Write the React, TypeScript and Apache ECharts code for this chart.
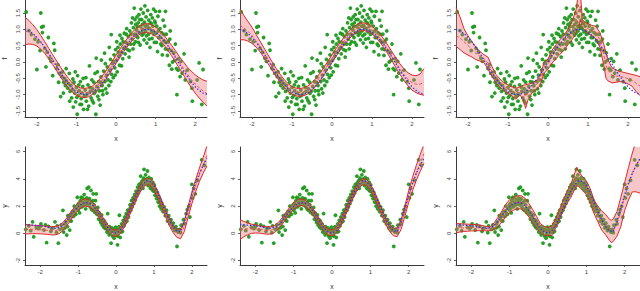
import React, { useEffect, useRef } from "react";
import * as echarts from "echarts";

// ---------- top row data (response "f") ----------
const TOP_X = [-2.3,-2.2,-2.1,-2.0,-1.9,-1.8,-1.7,-1.6,-1.5,-1.4,-1.3,-1.2,-1.1,-1.0,-0.9,-0.8,-0.7,-0.6,-0.5,-0.4,-0.3,-0.2,-0.1,0,0.1,0.2,0.3,0.4,0.5,0.6,0.7,0.8,0.9,1.0,1.1,1.2,1.3,1.4,1.5,1.6,1.7,1.8,1.9,2.0,2.1,2.2,2.3];
const TOP_TRUE = [0.99,0.95,0.87,0.76,0.61,0.44,0.26,0.06,-0.14,-0.33,-0.52,-0.68,-0.81,-0.91,-0.97,-1.0,-0.99,-0.93,-0.84,-0.72,-0.56,-0.39,-0.2,0,0.2,0.39,0.56,0.72,0.84,0.93,0.99,1.0,0.97,0.91,0.81,0.68,0.52,0.33,0.14,-0.06,-0.26,-0.44,-0.61,-0.76,-0.87,-0.95,-0.99];

const P1_EST = [0.95,0.91,0.84,0.74,0.6,0.44,0.26,0.07,-0.12,-0.31,-0.49,-0.65,-0.79,-0.88,-0.93,-0.95,-0.93,-0.87,-0.77,-0.64,-0.48,-0.3,-0.11,0.08,0.27,0.45,0.62,0.77,0.89,0.98,1.03,1.04,1.0,0.93,0.82,0.69,0.53,0.36,0.18,-0.01,-0.19,-0.37,-0.53,-0.67,-0.79,-0.89,-0.97];
const P1_LO = [0.53,0.55,0.54,0.49,0.39,0.26,0.1,-0.08,-0.27,-0.46,-0.64,-0.8,-0.93,-1.02,-1.07,-1.09,-1.07,-1.0,-0.9,-0.77,-0.61,-0.43,-0.24,-0.05,0.14,0.32,0.49,0.64,0.76,0.85,0.9,0.9,0.86,0.79,0.68,0.54,0.38,0.2,0.01,-0.19,-0.39,-0.59,-0.78,-0.95,-1.1,-1.23,-1.35];
const P1_HI = [1.37,1.27,1.14,0.99,0.81,0.62,0.42,0.22,0.03,-0.16,-0.34,-0.5,-0.65,-0.74,-0.79,-0.81,-0.79,-0.74,-0.64,-0.51,-0.35,-0.17,0.02,0.21,0.4,0.58,0.75,0.9,1.02,1.11,1.16,1.18,1.14,1.07,0.96,0.84,0.68,0.52,0.35,0.17,0.01,-0.15,-0.28,-0.39,-0.48,-0.55,-0.59];

const P2_EST = [1.12,1.04,0.94,0.81,0.65,0.47,0.28,0.08,-0.12,-0.31,-0.49,-0.65,-0.78,-0.87,-0.92,-0.93,-0.91,-0.85,-0.75,-0.62,-0.46,-0.28,-0.09,0.1,0.29,0.47,0.64,0.79,0.92,1.01,1.07,1.08,1.05,0.98,0.87,0.73,0.56,0.37,0.17,-0.03,-0.22,-0.39,-0.53,-0.63,-0.68,-0.68,-0.62];
const P2_LO = [0.68,0.68,0.64,0.57,0.46,0.31,0.14,-0.05,-0.24,-0.43,-0.61,-0.77,-0.9,-0.99,-1.04,-1.05,-1.03,-0.97,-0.87,-0.74,-0.58,-0.4,-0.21,-0.02,0.17,0.35,0.52,0.67,0.8,0.89,0.95,0.96,0.93,0.86,0.75,0.61,0.43,0.24,0.03,-0.18,-0.38,-0.57,-0.73,-0.86,-0.94,-0.99,-1.02];
const P2_HI = [1.62,1.42,1.24,1.06,0.85,0.64,0.43,0.22,0.01,-0.19,-0.37,-0.53,-0.66,-0.75,-0.8,-0.81,-0.79,-0.73,-0.63,-0.5,-0.34,-0.16,0.03,0.22,0.41,0.59,0.76,0.91,1.04,1.13,1.19,1.2,1.17,1.1,0.99,0.86,0.69,0.51,0.31,0.12,-0.06,-0.21,-0.33,-0.4,-0.42,-0.37,-0.2];

const P3_X = [-2.3,-2.2,-2.1,-2.0,-1.9,-1.8,-1.7,-1.6,-1.5,-1.4,-1.3,-1.2,-1.1,-1.0,-0.9,-0.8,-0.7,-0.62,-0.56,-0.5,-0.4,-0.3,-0.2,-0.1,0,0.1,0.2,0.3,0.4,0.5,0.6,0.7,0.76,0.81,0.86,0.9,1.0,1.1,1.2,1.3,1.4,1.45,1.5,1.6,1.7,1.8,1.9,2.0,2.1,2.2,2.3];
const P3_EST = [0.8,0.74,0.62,0.5,0.38,0.26,0.17,0.1,-0.03,-0.29,-0.5,-0.64,-0.75,-0.83,-0.9,-0.97,-0.88,-0.92,-1.06,-0.92,-0.8,-0.71,-0.58,-0.18,-0.06,0.16,0.31,0.46,0.59,0.77,0.95,1.24,1.57,1.7,1.17,1.12,1.02,0.96,0.9,0.67,0.19,-0.11,-0.25,-0.41,-0.43,-0.44,-0.47,-0.51,-0.56,-0.65,-0.74];
const P3_LO = [0.48,0.38,0.28,0.21,0.15,0.07,0.03,-0.02,-0.22,-0.44,-0.63,-0.77,-0.88,-0.96,-1.04,-1.14,-1.01,-1.14,-1.42,-1.16,-0.95,-0.85,-0.72,-0.35,-0.22,-0.04,0.1,0.24,0.36,0.53,0.68,0.9,1.05,1.29,1.05,1.0,0.88,0.8,0.7,0.45,-0.14,-0.5,-0.58,-0.64,-0.62,-0.6,-0.62,-0.67,-0.74,-0.9,-1.03];
const P3_HI = [1.66,1.38,1.02,0.8,0.62,0.45,0.32,0.22,0.15,-0.14,-0.38,-0.52,-0.63,-0.7,-0.76,-0.8,-0.76,-0.71,-0.7,-0.68,-0.64,-0.58,-0.44,-0.02,0.09,0.36,0.53,0.68,0.82,1.0,1.24,1.59,2.1,2.1,1.3,1.24,1.17,1.12,1.09,0.9,0.52,0.27,0.07,-0.18,-0.24,-0.29,-0.32,-0.35,-0.38,-0.41,-0.45];

const TOP_PTS = [
  [-2.27,1.53],[-2.2,0.96],[-2.14,0.84],[-2.05,0.7],[-2.0,-0.23],[-1.97,0.62],[-1.9,1.5],[-1.88,1.07],[-1.86,0.9],[-1.84,1.09],[-1.8,0.42],[-1.77,-0.15],[-1.74,0.3],[-1.68,0.12],[-1.64,0.02],[-1.6,-0.42],[-1.57,0.57],[-1.55,0.36],[-1.5,-0.2],[-1.47,-0.08],[-1.43,-0.35],[-1.4,-1.06],
  [-1.37,-0.45],[-1.35,-0.3],[-1.32,-0.62],[-1.3,-0.5],[-1.28,-0.72],[-1.25,-0.58],[-1.22,-0.8],[-1.2,-0.66],[-1.18,-0.35],[-1.16,-0.9],[-1.14,-0.72],[-1.12,-1.1],[-1.1,-0.85],[-1.08,-1.38],[-1.06,-0.62],[-1.04,-0.95],[-1.02,-1.22],[-1.0,-0.78],[-0.98,-1.6],[-0.97,-0.42],[-0.95,-1.02],[-0.93,-0.88],[-0.91,-1.3],[-0.9,-0.6],[-0.88,-1.12],[-0.86,-0.95],[-0.84,-0.75],[-0.82,-1.45],[-0.8,-1.05],[-0.78,-0.86],[-0.76,-0.48],[-0.75,-1.2],[-0.73,-0.98],[-0.71,-0.7],[-0.69,-1.35],[-0.67,-0.12],[-0.65,-0.9],[-0.63,-1.1],[-0.61,-0.55],[-0.59,-0.82],[-0.57,-1.25],[-0.55,-0.96],[-0.53,-0.35],[-0.51,-1.6],[-0.5,0.12],[-0.48,-0.75],[-0.46,-1.05],[-0.44,-0.6],[-0.42,-0.88],[-0.4,-1.32],[-0.38,-0.46],[-0.37,0.06],[-0.35,-0.72],[-0.33,-1.0],[-0.31,-0.28],
  [-0.29,0.27],[-0.28,-0.6],[-0.26,-0.82],[-0.24,-0.4],[-0.22,-0.15],[-0.2,-0.55],[-0.18,-0.72],[-0.16,-0.25],[-0.14,0.08],[-0.12,0.84],[-0.11,-0.38],[-0.09,-0.05],[-0.07,-0.48],[-0.05,0.22],[-0.03,-0.18],[-0.01,0.38],[0.01,0.05],[0.03,-0.3],[0.05,0.45],[0.07,0.18],[0.09,-0.1],[0.11,0.55],[0.13,0.3],[0.15,0.72],[0.17,0.1],[0.19,0.42],[0.21,0.88],[0.23,0.25],[0.25,0.6],[0.27,1.02],[0.29,0.38],[0.31,0.78],[0.33,0.15],[0.35,0.95],[0.37,0.55],[0.39,1.2],[0.41,0.7],[0.43,0.4],[0.44,1.05],
  [0.46,1.65],[0.47,0.85],[0.49,0.62],[0.5,1.15],[0.52,0.98],[0.53,1.38],[0.55,0.75],[0.56,1.2],[0.58,1.45],[0.59,0.9],[0.61,0.52],[0.62,1.08],[0.63,1.62],[0.65,1.3],[0.66,0.82],[0.68,1.0],[0.69,1.5],[0.71,0.68],[0.72,1.22],[0.73,1.72],[0.75,0.95],[0.76,1.38],[0.78,0.58],[0.79,1.12],[0.8,1.58],[0.82,0.85],[0.83,1.28],[0.85,1.02],[0.86,0.45],[0.88,1.45],[0.89,1.18],[0.91,0.72],[0.92,1.35],[0.94,0.95],[0.95,1.62],[0.97,0.6],[0.98,1.25],[1.0,1.55],[1.01,0.88],[1.03,1.1],[1.05,0.32],[1.06,1.4],[1.08,0.75],[1.1,1.55],[1.11,1.02],[1.13,0.55],
  [1.15,0.9],[1.17,0.22],[1.19,1.28],[1.21,0.65],[1.23,1.1],[1.25,1.55],[1.25,0.4],[1.27,0.85],[1.3,0.2],[1.32,0.62],[1.35,-0.1],[1.37,0.95],[1.4,0.35],[1.43,0.0],[1.46,0.28],[1.5,0.55],[1.53,-0.2],[1.54,-1.0],[1.58,0.1],[1.62,-0.45],[1.67,-0.34],[1.72,0.25],[1.8,-0.25],[1.88,-0.6],[1.92,-0.8],[1.93,-1.2],[2.1,-0.03],[2.2,-0.23],[2.17,-1.3],[2.05,-0.55],
  [-1.92,0.35],[-1.71,0.75],[-1.45,-0.62],[-1.33,-0.95],[-1.26,-0.2],[-1.17,-1.2],[-1.09,-0.52],[-1.03,-0.3],[-0.99,-1.08],[-0.94,-0.7],[-0.87,-1.3],[-0.83,-0.5],[-0.77,-1.02],[-0.72,-1.45],[-0.66,-0.78],[-0.6,-1.18],[-0.56,-0.62],[-0.52,-0.9],[-0.47,-0.3],[-0.43,-1.15],[-0.39,-0.62],[-0.34,-0.88],[-0.27,-0.05],[-0.23,-0.95],[-0.17,0.45],[-0.13,-0.6],[-0.06,0.02],[-0.02,-0.4],[0.02,0.62],[0.06,0.3],[0.1,0.82],[0.14,-0.12],[0.18,0.62],[0.22,0.45],[0.26,0.85],[0.3,0.55],[0.34,0.35],[0.38,0.85],[0.42,1.35],[0.45,0.55],[0.48,1.3],[0.51,0.82],[0.54,1.08],[0.57,0.6],[0.6,1.3],[0.64,0.9],[0.67,1.15],[0.7,0.88],[0.74,1.1],[0.77,0.8],[0.81,1.05],[0.84,0.7],[0.87,1.2],[0.9,0.92],[0.93,1.1],[0.96,0.85],[0.99,1.2],[1.02,0.6],[1.07,0.95],[1.12,0.75],[1.16,0.5],[1.2,0.85],[1.26,0.6],[1.31,0.38],[1.36,0.7],[1.41,-0.22],[1.48,0.05],[1.57,-0.25],[1.64,0.02],[1.75,-0.55]
];

// ---------- bottom row data (response "y") ----------
const BOT_X = [-2.4,-2.3,-2.2,-2.1,-2.0,-1.9,-1.8,-1.7,-1.6,-1.5,-1.4,-1.3,-1.2,-1.1,-1.0,-0.9,-0.8,-0.7,-0.6,-0.5,-0.4,-0.3,-0.2,-0.1,0,0.1,0.2,0.3,0.4,0.5,0.6,0.7,0.8,0.9,1.0,1.1,1.2,1.3,1.4,1.5,1.6,1.7,1.8,1.9,2.0,2.1,2.2,2.3,2.4];
const BOT_TRUE = [0.62,0.62,0.61,0.59,0.56,0.52,0.46,0.4,0.37,0.42,0.6,0.92,1.3,1.67,1.97,2.18,2.27,2.22,2.02,1.67,1.22,0.76,0.36,0.09,0.02,0.18,0.6,1.2,1.86,2.52,3.12,3.6,3.86,3.82,3.5,2.98,2.32,1.63,1.0,0.5,0.18,0.12,0.85,1.85,2.85,3.7,4.4,5.0,5.5];

const P4_EST = [0.3,0.3,0.29,0.28,0.27,0.25,0.22,0.19,0.2,0.29,0.5,0.84,1.24,1.64,1.97,2.19,2.27,2.2,1.98,1.63,1.19,0.74,0.34,0.07,0.0,0.17,0.58,1.18,1.84,2.5,3.1,3.58,3.82,3.76,3.42,2.88,2.21,1.51,0.87,0.35,0.02,-0.05,0.5,1.55,2.6,3.5,4.3,5.0,5.7];
const P4_LO = [-0.05,-0.03,-0.02,-0.02,-0.03,-0.05,-0.08,-0.11,-0.11,-0.02,0.2,0.55,0.96,1.37,1.7,1.92,2.0,1.94,1.73,1.39,0.96,0.51,0.11,-0.16,-0.23,-0.06,0.35,0.95,1.61,2.27,2.86,3.34,3.58,3.52,3.18,2.64,1.97,1.26,0.61,0.08,-0.27,-0.4,0.12,1.15,2.17,3.05,3.8,4.42,4.95];
const P4_HI = [0.65,0.63,0.6,0.58,0.57,0.55,0.52,0.49,0.51,0.6,0.8,1.13,1.52,1.91,2.24,2.46,2.54,2.46,2.23,1.87,1.42,0.97,0.57,0.3,0.23,0.4,0.81,1.41,2.07,2.73,3.34,3.82,4.06,4.0,3.66,3.12,2.45,1.76,1.13,0.62,0.31,0.3,0.88,1.95,3.03,3.95,4.8,5.58,6.45];

const P5_EST = [0.28,0.32,0.34,0.34,0.33,0.3,0.25,0.21,0.22,0.32,0.55,0.9,1.3,1.69,2.01,2.22,2.29,2.21,1.98,1.62,1.17,0.72,0.33,0.08,0.03,0.21,0.63,1.23,1.89,2.54,3.12,3.57,3.8,3.74,3.41,2.88,2.23,1.54,0.91,0.41,0.1,0.08,0.62,1.62,2.7,3.62,4.45,5.15,5.85];
const P5_LO = [-0.45,-0.25,-0.1,0.0,0.03,0.02,-0.02,-0.06,-0.05,0.06,0.3,0.66,1.06,1.45,1.77,1.98,2.05,1.97,1.75,1.4,0.95,0.5,0.11,-0.14,-0.19,-0.01,0.41,1.01,1.67,2.32,2.9,3.35,3.58,3.52,3.19,2.66,2.0,1.31,0.67,0.16,-0.17,-0.24,0.28,1.24,2.27,3.13,3.9,4.55,5.15];
const P5_HI = [1.0,0.88,0.77,0.68,0.63,0.58,0.52,0.48,0.49,0.58,0.8,1.14,1.54,1.93,2.25,2.46,2.53,2.45,2.21,1.84,1.39,0.94,0.55,0.3,0.25,0.43,0.85,1.45,2.11,2.76,3.34,3.79,4.02,3.96,3.63,3.1,2.46,1.77,1.15,0.66,0.37,0.4,0.96,2.0,3.13,4.11,5.0,5.78,6.55];

const P6_X = [-2.4,-2.3,-2.2,-2.1,-2.0,-1.9,-1.8,-1.7,-1.6,-1.5,-1.4,-1.3,-1.2,-1.1,-1.0,-0.9,-0.8,-0.7,-0.6,-0.5,-0.4,-0.3,-0.2,-0.1,0,0.1,0.2,0.3,0.4,0.5,0.6,0.7,0.75,0.8,0.9,1.0,1.1,1.2,1.3,1.4,1.5,1.6,1.65,1.7,1.8,1.9,2.0,2.1,2.2,2.3,2.4];
const P6_EST = [0.38,0.4,0.41,0.42,0.42,0.42,0.41,0.38,0.34,0.34,0.55,0.85,1.25,1.68,2.0,2.2,2.28,2.28,2.1,1.72,1.27,0.82,0.4,0.18,0.12,0.22,0.7,1.35,2.05,2.7,3.2,3.8,4.1,3.95,3.65,3.3,2.8,2.05,1.45,0.95,0.6,0.3,0.2,0.28,0.75,1.6,2.7,3.6,4.4,5.0,5.45];
const P6_LO = [0.05,0.1,0.14,0.16,0.18,0.19,0.2,0.2,0.19,0.2,0.3,0.5,0.85,1.22,1.52,1.7,1.8,1.8,1.6,1.2,0.8,0.4,0.05,-0.12,-0.17,-0.15,0.4,1.05,1.7,2.25,2.65,3.25,3.5,3.45,3.15,2.85,2.3,1.45,0.85,0.25,-0.1,-0.5,-0.67,-0.6,-0.2,0.5,1.69,2.45,3.05,3.05,2.95];
const P6_HI = [0.72,0.71,0.69,0.68,0.66,0.65,0.62,0.57,0.5,0.48,0.8,1.2,1.65,2.14,2.48,2.66,2.76,2.77,2.58,2.2,1.75,1.25,0.72,0.52,0.43,0.55,1.05,1.75,2.45,3.1,3.62,4.45,4.85,4.55,4.15,3.85,3.3,2.45,2.0,1.65,1.4,1.05,0.96,1.05,1.6,2.65,3.73,4.85,5.9,6.8,7.5];

const BOT_PTS = [
  [-2.38,0.3],[-2.3,0.55],[-2.2,0.85],[-2.17,-0.25],[-2.1,0.45],[-2.04,0.36],[-1.98,0.7],[-1.9,0.25],[-1.83,-0.68],[-1.78,0.52],[-1.72,0.15],[-1.66,0.4],[-1.61,0.84],[-1.57,0.05],[-1.52,-0.72],[-1.48,0.3],[-1.44,0.62],[-1.4,1.69],[-1.38,0.1],[-1.35,0.4],
  [-1.32,0.85],[-1.3,-0.12],[-1.28,0.5],[-1.25,1.1],[-1.22,0.24],[-1.2,1.4],[-1.18,0.9],[-1.15,1.6],[-1.12,1.25],[-1.1,2.0],[-1.08,1.45],[-1.05,1.85],[-1.02,2.65],[-1.0,1.7],[-0.98,2.2],[-0.96,1.5],[-0.94,2.4],[-0.92,2.65],[-0.9,1.95],[-0.88,2.3],[-0.86,2.05],[-0.84,2.85],[-0.82,2.5],[-0.8,1.8],[-0.78,2.3],[-0.76,3.3],[-0.74,2.1],[-0.72,3.4],[-0.7,2.55],[-0.68,1.95],[-0.66,3.15],[-0.64,2.3],[-0.62,1.7],[-0.6,2.9],[-0.58,2.1],[-0.56,1.55],[-0.54,2.4],[-0.52,2.9],[-0.5,1.4],[-0.48,1.9],[-0.46,1.05],[-0.44,1.5],[-0.42,1.2],[-0.4,0.8],[-0.38,1.35],[-0.36,0.6],[-0.34,1.0],[-0.32,0.45],
  [-0.3,0.9],[-0.28,0.35],[-0.26,0.7],[-0.24,0.1],[-0.22,1.45],[-0.2,0.45],[-0.18,-0.1],[-0.16,0.3],[-0.14,0.05],[-0.13,-0.72],[-0.11,0.4],[-0.09,-0.2],[-0.07,0.2],[-0.05,-0.35],[-0.03,0.1],[-0.01,0.45],[0.01,-0.15],[0.03,0.25],[0.04,-0.84],[0.06,0.05],[0.08,0.5],[0.09,1.33],[0.11,-0.3],[0.13,0.35],[0.15,0.7],[0.17,0.15],[0.19,0.95],[0.21,0.55],[0.23,1.2],[0.25,0.8],[0.27,1.45],[0.29,0.9],[0.31,1.7],[0.33,1.2],
  [0.35,1.55],[0.37,2.1],[0.39,1.7],[0.41,2.4],[0.43,1.95],[0.45,2.6],[0.47,2.2],[0.49,2.85],[0.51,2.45],[0.53,3.1],[0.55,2.75],[0.57,3.4],[0.59,2.95],[0.61,3.6],[0.63,3.2],[0.65,4.2],[0.67,3.45],[0.69,3.85],[0.71,3.3],[0.73,4.05],[0.74,4.7],[0.76,3.6],[0.78,4.3],[0.8,3.75],[0.82,4.0],[0.83,4.58],[0.85,3.5],[0.87,4.1],[0.89,3.7],[0.91,3.3],[0.93,4.0],[0.95,3.45],[0.97,3.75],[0.99,3.1],[1.01,3.55],[1.03,2.8],[1.05,3.2],[1.07,2.55],[1.09,3.0],[1.11,2.3],[1.13,2.7],[1.15,2.0],[1.17,2.45],[1.19,1.8],
  [1.21,2.2],[1.24,1.6],[1.27,1.95],[1.3,1.3],[1.33,1.7],[1.36,0.9],[1.39,1.3],[1.42,0.7],[1.45,1.0],[1.48,0.4],[1.51,0.75],[1.55,0.2],[1.58,0.5],[1.61,-0.96],[1.64,0.1],[1.68,0.3],[1.72,0.6],[1.78,1.0],[1.85,1.45],[1.92,2.0],[1.95,1.2],[2.0,3.6],[2.05,3.3],[2.09,2.9],[2.26,5.4],
  [-2.25,0.2],[-2.0,0.5],[-1.86,0.62],[-1.7,0.35],[-1.55,0.55],[-1.42,0.35],[-1.34,0.7],[-1.27,1.3],[-1.21,0.95],[-1.16,1.25],[-1.11,1.65],[-1.06,1.4],[-1.01,2.1],[-0.97,1.85],[-0.93,2.05],[-0.89,2.6],[-0.85,2.2],[-0.81,2.15],[-0.77,2.6],[-0.73,2.45],[-0.69,2.2],[-0.65,1.8],[-0.61,2.4],[-0.57,1.85],[-0.53,1.7],[-0.49,1.6],[-0.45,1.35],[-0.41,0.95],[-0.37,1.0],[-0.33,0.75],[-0.29,0.55],[-0.25,0.4],[-0.21,0.2],[-0.17,0.5],[-0.12,0.2],[-0.08,0.3],[-0.04,-0.1],[0.0,0.2],[0.05,-0.2],[0.1,0.3],[0.14,0.1],[0.18,0.55],[0.22,0.9],[0.26,1.05],[0.3,1.35],[0.34,1.7],[0.38,1.9],[0.42,2.1],[0.46,2.4],[0.5,2.6],[0.54,2.9],[0.58,3.1],[0.62,3.35],[0.66,3.7],[0.7,3.55],[0.75,3.95],[0.79,3.9],[0.84,3.85],[0.88,3.6],[0.92,3.6],[0.96,3.2],[1.0,3.3],[1.04,3.05],[1.08,2.8],[1.12,2.55],[1.16,2.25],[1.2,2.05],[1.25,1.85],[1.31,1.55],[1.37,1.2],[1.43,0.95],[1.5,0.5],[1.56,0.35],[1.62,0.25],[1.7,0.05],[1.8,0.7],[1.88,1.75],[2.02,2.6],[2.15,3.9],[2.33,5.0]
];

const X_TICKS = [-2, -1, 0, 1, 2];
const TOP_Y_TICKS = [-1.5, -1, -0.5, 0, 0.5, 1, 1.5];
const BOT_Y_TICKS = [-2, 0, 2, 4, 6];

const FONT = "'Liberation Sans', Arial, sans-serif";
const AX = "#3a3a3a";

type Panel = {
  left: number; top: number; height: number;
  xmin: number; xmax: number; ymin: number; ymax: number;
  yTicks: number[]; yName: string; yDigits: number;
  pts: number[][]; trueX: number[]; trueY: number[];
  bx: number[]; est: number[]; lo: number[]; hi: number[];
};

const pairs = (xs: number[], ys: number[]) => xs.map((x, i) => [x, ys[i]]);

export default function App() {
  const ref = useRef<HTMLDivElement>(null);
  useEffect(() => {
    if (!ref.current) return;
    const chart = echarts.init(ref.current, null, { renderer: "svg" });
    const lefts = [23, 240, 456];
    const panels: Panel[] = [];
    const topSets = [[TOP_X, P1_EST, P1_LO, P1_HI], [TOP_X, P2_EST, P2_LO, P2_HI], [P3_X, P3_EST, P3_LO, P3_HI]];
    const botSets = [[BOT_X, P4_EST, P4_LO, P4_HI], [BOT_X, P5_EST, P5_LO, P5_HI], [P6_X, P6_EST, P6_LO, P6_HI]];
    topSets.forEach((s, i) => panels.push({
      left: lefts[i], top: 0, height: 117, xmin: -2.3, xmax: 2.3, ymin: -1.684, ymax: 1.898,
      yTicks: TOP_Y_TICKS, yName: "f", yDigits: 1, pts: TOP_PTS, trueX: TOP_X, trueY: TOP_TRUE,
      bx: s[0], est: s[1], lo: s[2], hi: s[3],
    }));
    botSets.forEach((s, i) => panels.push({
      left: lefts[i], top: 147, height: 120, xmin: -2.4, xmax: 2.4, ymin: -2.32, ymax: 6.34,
      yTicks: BOT_Y_TICKS, yName: "y", yDigits: 0, pts: BOT_PTS, trueX: BOT_X, trueY: BOT_TRUE,
      bx: s[0], est: s[1], lo: s[2], hi: s[3],
    }));

    const grid = panels.map((p) => ({ left: p.left, top: p.top, width: 184, height: p.height }));
    const xAxis = panels.map((p, i) => ({
      gridIndex: i, type: "value", min: p.xmin, max: p.xmax,
      name: "x", nameLocation: "middle", nameGap: 18,
      nameTextStyle: { fontSize: 7, color: "#333", fontFamily: FONT },
      axisLine: { show: true, onZero: false, lineStyle: { color: AX, width: 1 } },
      axisTick: { show: true, customValues: X_TICKS, length: 2, lineStyle: { color: AX, width: 0.8 } },
      axisLabel: { show: true, customValues: X_TICKS, fontSize: 6, color: "#444", margin: 4, fontFamily: FONT,
        formatter: (v: number) => String(v) },
      splitLine: { show: false },
    }));
    const yAxis = panels.map((p, i) => ({
      gridIndex: i, type: "value", min: p.ymin, max: p.ymax,
      name: p.yName, nameLocation: "middle", nameGap: 17,
      nameTextStyle: { fontSize: 7, color: "#333", fontFamily: FONT },
      axisLine: { show: true, onZero: false, lineStyle: { color: AX, width: 1 } },
      axisTick: { show: true, customValues: p.yTicks, length: 2, lineStyle: { color: AX, width: 0.8 } },
      axisLabel: { show: true, customValues: p.yTicks, fontSize: 6, color: "#444", margin: 4, rotate: 90, fontFamily: FONT,
        formatter: (v: number) => v.toFixed(p.yDigits) },
      splitLine: { show: false },
    }));

    const series: any[] = [];
    panels.forEach((p, i) => {
      series.push({
        type: "scatter", xAxisIndex: i, yAxisIndex: i, data: p.pts, symbolSize: 3.8, z: 2,
        itemStyle: { color: "#1e9a1e", opacity: 0.95 }, silent: true,
      });
      series.push({
        type: "custom", xAxisIndex: i, yAxisIndex: i, clip: true, silent: true, z: 3,
        data: [[p.bx[0], p.lo[0]]],
        renderItem: (_params: any, api: any) => {
          const pts: number[][] = [];
          for (let k = 0; k < p.bx.length; k++) pts.push(api.coord([p.bx[k], p.hi[k]]));
          for (let k = p.bx.length - 1; k >= 0; k--) pts.push(api.coord([p.bx[k], p.lo[k]]));
          return { type: "polygon", shape: { points: pts }, style: { fill: "rgba(236,112,118,0.4)", stroke: "none" } };
        },
      });
      const line = (data: number[][], color: string, width: number, type: any, z: number) => ({
        type: "line", xAxisIndex: i, yAxisIndex: i, data, showSymbol: false, symbol: "none", z, silent: true,
        lineStyle: { color, width, type }, clip: true,
      });
      series.push(line(pairs(p.bx, p.lo), "#e0282c", 1, "solid", 4));
      series.push(line(pairs(p.bx, p.hi), "#e0282c", 1, "solid", 4));
      series.push(line(pairs(p.bx, p.est), "#e8474b", 0.9, [3, 2], 5));
      series.push(line(pairs(p.trueX, p.trueY), "#2a2aff", 1.3, [1.3, 2], 6));
    });

    chart.setOption({ animation: false, backgroundColor: "#ffffff", grid, xAxis, yAxis, series });
    return () => chart.dispose();
  }, []);
  return <div ref={ref} style={{ position: "fixed", left: 0, top: 0, width: 640, height: 291 }} />;
}
